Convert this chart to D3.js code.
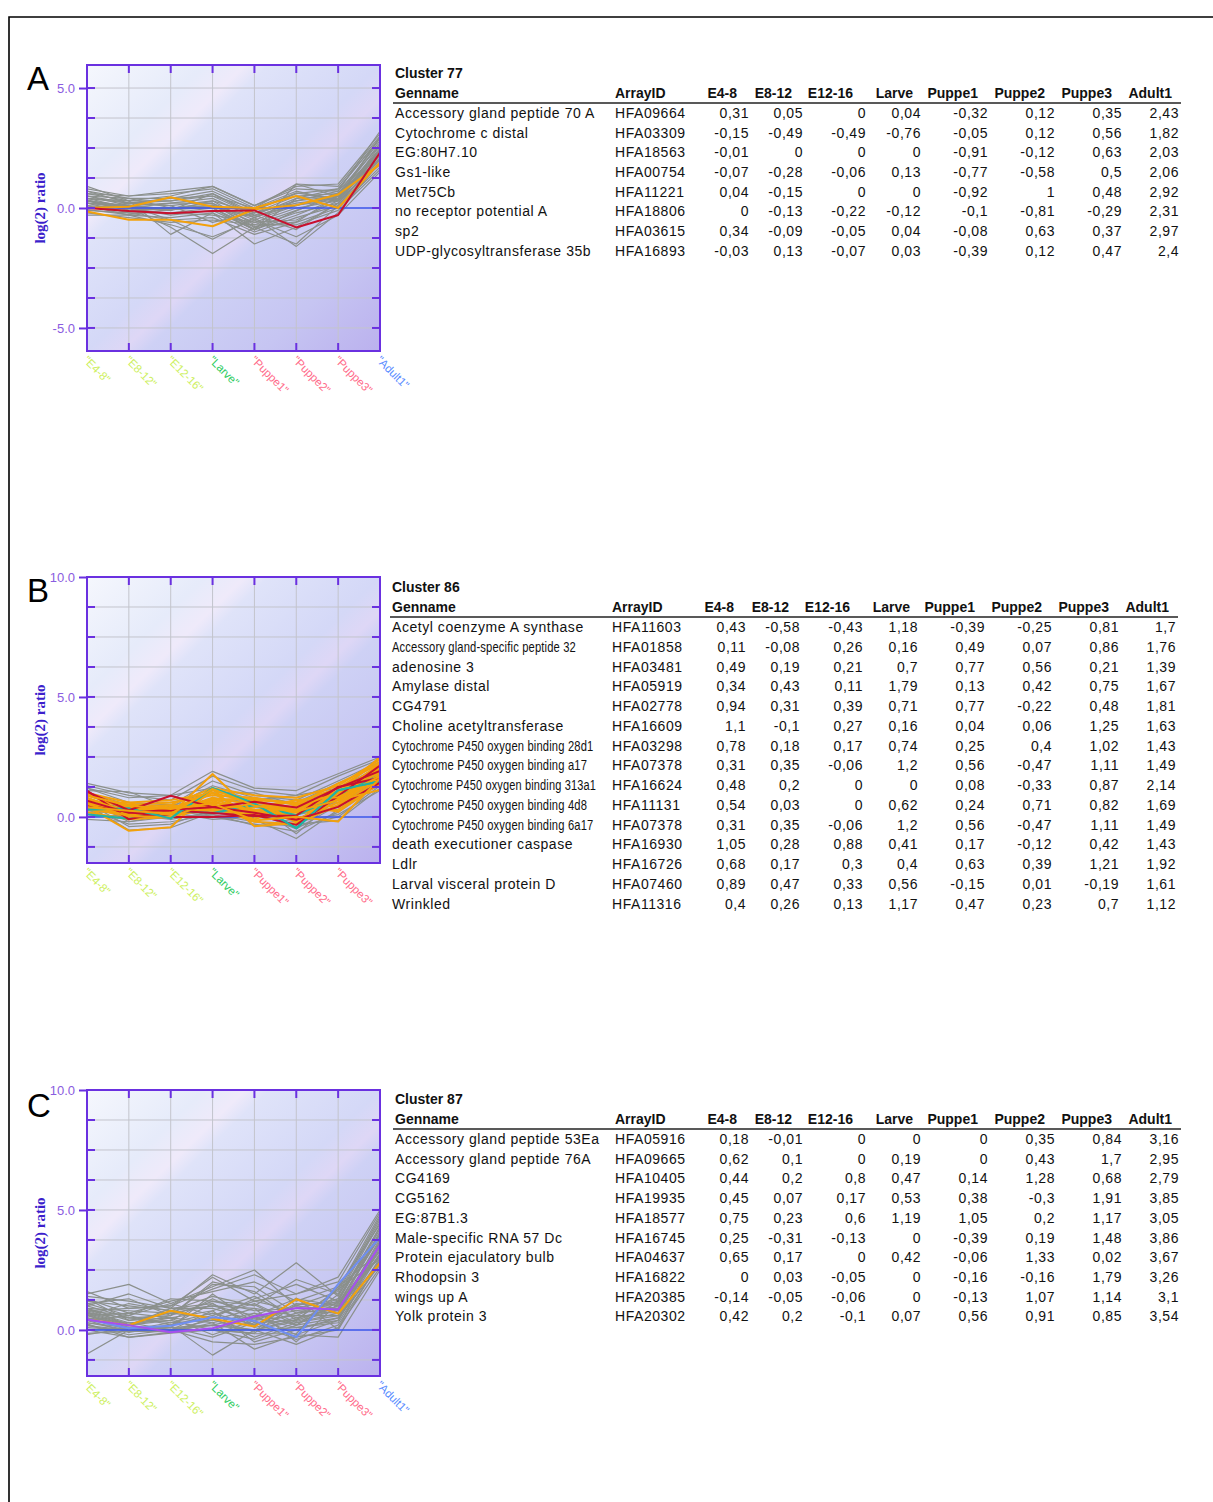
<!DOCTYPE html>
<html>
<head>
<meta charset="utf-8">
<script src="https://cdn.jsdelivr.net/npm/d3@7"></script>
<style>
  body { margin: 0; background: #fff; }
  svg { display: block; }
</style>
</head>
<body>
<svg id="fig" width="1213" height="1502"></svg>
<script>
// ---------- data ----------
const stages = ["E4-8", "E8-12", "E12-16", "Larve", "Puppe1", "Puppe2", "Puppe3", "Adult1"];
const tableColumns = ["Genname", "ArrayID", "E4-8", "E8-12", "E12-16", "Larve", "Puppe1", "Puppe2", "Puppe3", "Adult1"];

// Cluster 77
const namesA = ["Accessory gland peptide 70 A", "Cytochrome c distal", "EG:80H7.10", "Gs1-like", "Met75Cb",
  "no receptor potential A", "sp2", "UDP-glycosyltransferase 35b"];
const idsA = ["HFA09664", "HFA03309", "HFA18563", "HFA00754", "HFA11221", "HFA18806", "HFA03615", "HFA16893"];
const valuesA = [
  [0.31, 0.05, 0, 0.04, -0.32, 0.12, 0.35, 2.43],
  [-0.15, -0.49, -0.49, -0.76, -0.05, 0.12, 0.56, 1.82],
  [-0.01, 0, 0, 0, -0.91, -0.12, 0.63, 2.03],
  [-0.07, -0.28, -0.06, 0.13, -0.77, -0.58, 0.5, 2.06],
  [0.04, -0.15, 0, 0, -0.92, 1, 0.48, 2.92],
  [0, -0.13, -0.22, -0.12, -0.1, -0.81, -0.29, 2.31],
  [0.34, -0.09, -0.05, 0.04, -0.08, 0.63, 0.37, 2.97],
  [-0.03, 0.13, -0.07, 0.03, -0.39, 0.12, 0.47, 2.4]
];
// further members of cluster 77 (profiles only)
const membersA = [
  [0.9, 0.3, 0.5, 0.9, 0.1, 0.8, 0.7, 3.2],
  [0.8, 0.5, 0.6, 0.8, 0.0, 1.0, 0.9, 3.0],
  [0.7, 0.4, 0.4, 0.7, -0.1, 0.6, 0.8, 2.9],
  [0.6, 0.3, 0.3, 0.6, -0.2, 0.5, 0.6, 2.8],
  [0.5, 0.2, 0.4, 0.5, -0.3, 0.4, 0.5, 2.7],
  [0.5, 0.1, 0.2, 0.4, -0.4, 0.3, 0.7, 2.6],
  [0.4, 0.2, 0.1, 0.3, -0.2, 0.2, 0.4, 2.5],
  [0.3, 0.0, 0.2, 0.2, -0.5, 0.1, 0.6, 2.4],
  [0.3, -0.1, 0.0, 0.1, -0.6, 0.0, 0.3, 2.3],
  [0.2, 0.1, -0.1, 0.3, -0.7, -0.1, 0.5, 2.2],
  [0.2, -0.2, -0.2, 0.0, -0.8, -0.2, 0.2, 2.1],
  [0.1, 0.0, -0.3, -0.1, -0.9, -0.3, 0.4, 2.0],
  [0.1, -0.3, -0.4, -0.2, -1.0, -0.4, 0.1, 1.9],
  [0.0, -0.1, -0.2, -0.3, -0.6, -0.5, 0.3, 1.8],
  [-0.1, -0.2, -0.5, -0.4, -1.1, -0.6, 0.0, 1.7],
  [-0.2, -0.4, -0.6, -0.5, -0.7, -0.7, -0.1, 1.6],
  [0.4, 0.3, -1.1, -0.2, -1.5, -0.8, 0.2, 2.0],
  [0.3, 0.1, -0.5, -1.3, -0.4, -1.6, -0.2, 1.9],
  [0.2, 0.0, -0.8, -1.9, -0.8, -1.5, 0.1, 2.2],
  [0.6, 0.5, 0.7, 0.9, 0.1, 0.9, 1.0, 3.1],
  [0.7, 0.2, 0.3, 0.5, 0.0, 0.7, 0.3, 2.6],
  [0.4, 0.0, -0.1, 0.6, -0.3, -0.9, 0.2, 2.4],
  [0.0, 0.2, 0.1, -0.6, -0.2, 0.3, 0.5, 2.3],
  [0.5, 0.4, 0.0, 0.2, -0.9, 0.4, 0.8, 2.9],
  [-0.3, -0.3, -0.7, -1.2, -0.5, -1.2, -0.3, 1.5]
];
const accentA = [
  [0.0, 0.05, 0.45, 0.05, 0.0, 0.5, 0.0, 1.9]
];

// Cluster 86
const namesB = ["Acetyl coenzyme A synthase", "Accessory gland-specific peptide 32", "adenosine 3", "Amylase distal",
  "CG4791", "Choline acetyltransferase", "Cytochrome P450 oxygen binding 28d1", "Cytochrome P450 oxygen binding a17",
  "Cytochrome P450 oxygen binding 313a1", "Cytochrome P450 oxygen binding 4d8", "Cytochrome P450 oxygen binding 6a17",
  "death executioner caspase", "Ldlr", "Larval visceral protein D", "Wrinkled"];
const idsB = ["HFA11603", "HFA01858", "HFA03481", "HFA05919", "HFA02778", "HFA16609", "HFA03298", "HFA07378",
  "HFA16624", "HFA11131", "HFA07378", "HFA16930", "HFA16726", "HFA07460", "HFA11316"];
const valuesB = [
  [0.43, -0.58, -0.43, 1.18, -0.39, -0.25, 0.81, 1.7],
  [0.11, -0.08, 0.26, 0.16, 0.49, 0.07, 0.86, 1.76],
  [0.49, 0.19, 0.21, 0.7, 0.77, 0.56, 0.21, 1.39],
  [0.34, 0.43, 0.11, 1.79, 0.13, 0.42, 0.75, 1.67],
  [0.94, 0.31, 0.39, 0.71, 0.77, -0.22, 0.48, 1.81],
  [1.1, -0.1, 0.27, 0.16, 0.04, 0.06, 1.25, 1.63],
  [0.78, 0.18, 0.17, 0.74, 0.25, 0.4, 1.02, 1.43],
  [0.31, 0.35, -0.06, 1.2, 0.56, -0.47, 1.11, 1.49],
  [0.48, 0.2, 0, 0, 0.08, -0.33, 0.87, 2.14],
  [0.54, 0.03, 0, 0.62, 0.24, 0.71, 0.82, 1.69],
  [0.31, 0.35, -0.06, 1.2, 0.56, -0.47, 1.11, 1.49],
  [1.05, 0.28, 0.88, 0.41, 0.17, -0.12, 0.42, 1.43],
  [0.68, 0.17, 0.3, 0.4, 0.63, 0.39, 1.21, 1.92],
  [0.89, 0.47, 0.33, 0.56, -0.15, 0.01, -0.19, 1.61],
  [0.4, 0.26, 0.13, 1.17, 0.47, 0.23, 0.7, 1.12]
];
const membersB = [
  [1.4, 1.0, 0.9, 1.9, 1.2, 1.1, 1.8, 2.5],
  [1.3, 0.9, 0.7, 1.7, 1.1, 0.9, 1.7, 2.4],
  [1.2, 0.6, 0.5, 1.5, 0.9, 0.7, 1.5, 2.3],
  [1.1, 1.05, 0.4, 1.3, 0.8, 0.6, 1.4, 2.2],
  [1.0, 0.5, 0.6, 1.0, 1.0, 0.5, 1.2, 2.0],
  [0.9, 0.3, 0.2, 0.8, 0.6, 0.3, 1.0, 1.9],
  [0.8, 0.1, 0.4, 0.6, 0.4, 0.2, 0.9, 1.8],
  [0.7, -0.2, 0.1, 0.5, 0.3, -0.1, 0.7, 1.7],
  [0.6, -0.4, -0.3, 0.3, 0.2, -0.5, 0.5, 1.6],
  [0.5, -0.55, -0.45, 0.2, -0.1, -0.9, 0.3, 1.5],
  [0.4, 0.0, 0.3, 0.0, -0.3, -0.6, 0.2, 1.4],
  [0.3, -0.3, -0.2, 0.1, -0.35, -0.3, -0.15, 1.2],
  [0.2, 0.2, 0.0, 0.4, 0.5, 0.4, 0.6, 1.3],
  [0.1, -0.1, 0.2, -0.1, 0.0, -0.2, 0.1, 1.1],
  [0.0, 0.1, -0.1, 0.2, 0.1, 0.1, 0.4, 1.5],
  [-0.1, -0.2, 0.0, 0.1, -0.2, -0.4, 0.0, 1.3],
  [1.2, 0.8, 0.9, 1.2, 0.7, 0.9, 1.2, 2.1],
  [0.6, 0.4, 0.5, 0.7, 0.6, -0.7, 0.8, 1.9]
];
const accentB = [
  [0.9, 0.4, 0.5, 1.2, 0.9, 0.8, 1.3, 2.4],
  [0.8, 0.2, 0.3, 1.1, 0.7, 0.6, 1.2, 2.3],
  [0.7, 0.5, 0.6, 0.9, 0.8, 0.5, 1.0, 2.2],
  [0.6, 0.1, 0.2, 0.8, 0.5, 0.3, 0.9, 2.1],
  [0.5, 0.3, 0.4, 0.6, 0.3, 0.2, 0.8, 2.0],
  [0.4, 0.0, 0.1, 0.5, 0.2, 0.1, 0.7, 1.9],
  [0.3, 0.2, 0.5, 0.3, 0.1, -0.1, 0.6, 1.8],
  [0.2, -0.1, 0.0, 0.4, -0.2, -0.3, 0.5, 1.7],
  [1.0, 0.6, 0.7, 1.0, 0.6, 0.4, 1.1, 2.0],
  [0.6, 0.3, 0.2, 0.2, 0.4, 0.7, 0.4, 1.6],
  [0.3, 0.1, 0.3, 0.7, -0.1, 0.5, 1.4, 2.2],
  [0.9, 0.5, 0.2, 0.3, 0.7, 0.2, 0.3, 1.4],
  [0.5, 0.6, 0.1, 1.0, 0.0, 0.3, 0.9, 1.8],
  [0.7, 0.0, 0.4, 0.4, 0.5, -0.2, 1.0, 2.5]
];

// Cluster 87
const namesC = ["Accessory gland peptide 53Ea", "Accessory gland peptide 76A", "CG4169", "CG5162", "EG:87B1.3",
  "Male-specific RNA 57 Dc", "Protein ejaculatory bulb", "Rhodopsin 3", "wings up A", "Yolk protein 3"];
const idsC = ["HFA05916", "HFA09665", "HFA10405", "HFA19935", "HFA18577", "HFA16745", "HFA04637", "HFA16822",
  "HFA20385", "HFA20302"];
const valuesC = [
  [0.18, -0.01, 0, 0, 0, 0.35, 0.84, 3.16],
  [0.62, 0.1, 0, 0.19, 0, 0.43, 1.7, 2.95],
  [0.44, 0.2, 0.8, 0.47, 0.14, 1.28, 0.68, 2.79],
  [0.45, 0.07, 0.17, 0.53, 0.38, -0.3, 1.91, 3.85],
  [0.75, 0.23, 0.6, 1.19, 1.05, 0.2, 1.17, 3.05],
  [0.25, -0.31, -0.13, 0, -0.39, 0.19, 1.48, 3.86],
  [0.65, 0.17, 0, 0.42, -0.06, 1.33, 0.02, 3.67],
  [0, 0.03, -0.05, 0, -0.16, -0.16, 1.79, 3.26],
  [-0.14, -0.05, -0.06, 0, -0.13, 1.07, 1.14, 3.1],
  [0.42, 0.2, -0.1, 0.07, 0.56, 0.91, 0.85, 3.54]
];
const membersC = [
  [1.6, 0.9, 1.0, 2.2, 1.2, 1.5, 2.0, 4.9],
  [1.5, 1.9, 1.1, 1.8, 2.5, 1.0, 1.6, 4.7],
  [1.4, 1.2, 0.9, 2.3, 1.5, 2.8, 1.4, 4.5],
  [1.3, 0.7, 1.2, 1.6, 2.0, 1.2, 1.8, 4.4],
  [1.2, 1.0, 0.8, 1.4, 1.0, 2.1, 1.5, 4.6],
  [1.1, 0.6, 1.3, 1.2, 0.8, 0.9, 1.3, 4.3],
  [1.0, 0.5, 0.6, 1.9, 1.8, 0.7, 1.2, 4.2],
  [0.9, 0.8, 0.7, 1.0, 0.6, 1.3, 1.0, 4.1],
  [0.9, 0.4, 0.5, 0.8, 1.4, 0.5, 0.9, 4.0],
  [0.8, 0.3, 0.4, 1.3, 0.5, 0.8, 1.1, 3.9],
  [0.8, 0.6, 0.2, 0.6, 1.1, 0.3, 0.7, 3.8],
  [0.7, 0.2, 0.9, 0.9, 0.4, 1.0, 0.8, 3.7],
  [0.7, 0.5, 0.3, 0.4, 0.9, 0.6, 0.6, 3.6],
  [0.6, 0.1, 0.1, 1.5, 0.3, 0.4, 1.0, 3.5],
  [0.6, 0.7, 0.5, 0.3, 0.7, 0.2, 0.5, 3.4],
  [0.5, 0.0, 0.3, 0.7, 0.2, 0.7, 0.9, 3.3],
  [0.5, 0.3, 0.0, 0.2, 0.6, -0.2, 0.4, 3.2],
  [0.4, -0.1, 0.2, 1.1, 0.1, 0.5, 0.8, 3.1],
  [0.4, 0.2, 0.4, 0.0, 0.5, 0.1, 0.3, 3.0],
  [0.3, 0.0, -0.1, 0.5, -0.3, 0.3, 0.6, 2.9],
  [0.3, 0.1, 0.1, -0.3, 0.3, -0.4, 0.2, 2.8],
  [0.2, -0.2, 0.0, 0.8, -0.5, 0.0, 0.5, 2.7],
  [0.1, 0.0, 0.2, -1.05, 0.0, -0.6, 0.1, 2.6],
  [0.0, -0.3, -0.1, 0.3, -0.8, -0.2, -0.3, 2.5],
  [-0.2, 0.1, 0.0, -0.5, -0.6, -0.3, 0.0, 2.9],
  [-1.0, 0.0, 0.1, 0.2, 0.0, 0.1, 0.4, 3.5],
  [1.1, 1.3, 0.6, 2.0, 1.6, 0.4, 1.7, 4.8],
  [0.8, 0.9, 1.0, 1.7, 2.3, 1.5, 2.2, 5.0],
  [1.3, 0.4, 0.7, 0.5, 1.3, 1.9, 1.2, 4.3],
  [0.6, 1.1, 0.8, 1.0, 0.9, -0.5, 1.1, 3.9],
  [0.4, 0.6, 1.1, 0.6, 1.2, 0.8, 0.7, 3.6],
  [0.9, 0.2, 0.5, -0.2, 0.4, 0.6, 1.3, 4.0],
  [1.0, 1.5, 0.9, 1.1, 0.2, 1.1, 0.9, 3.3]
];
const accentC = [];

// y tick labels for each panel
const yLabelsA = [-5, 0, 5];
const yLabelsB = [0, 5, 10];
const yLabelsC = [0, 5, 10];

// ---------- styling ----------
const RED = "#c8102e", ORANGE = "#f2a10c", TEAL = "#1fb3a6", PURPLE = "#a64ff0", BLUE = "#6f8ef2";
const GREY = "#8b908c";
const FRAME = "#6a30e0", TICKTXT = "#8a5ce0", AXTITLE = "#3c1fcc", ZERO = "#3a55f0";
const stageColor = {
  "E4-8": "#cdef5e", "E8-12": "#cdef5e", "E12-16": "#cdef5e", "Larve": "#2fcc62",
  "Puppe1": "#ff6b8a", "Puppe2": "#ff6b8a", "Puppe3": "#ff6b8a", "Adult1": "#5a8cff"
};

const svg = d3.select("#fig");
const defs = svg.append("defs");

// plot background: light blue-white to lavender along the diagonal, with faint lighter bands
const bg = defs.append("linearGradient").attr("id", "plotBg")
  .attr("x1", 0).attr("y1", 0).attr("x2", 1).attr("y2", 1);
[[0, "#f5f7fd"], [0.2, "#e6ebfa"], [0.27, "#efeafa"], [0.31, "#dfe3f9"], [0.5, "#d4d8f7"],
 [0.56, "#ded7f6"], [0.6, "#ced1f5"], [0.8, "#c6c5f2"], [1, "#bbb1ee"]]
  .forEach(([o, c]) => bg.append("stop").attr("offset", o).attr("stop-color", c));

// page frame
svg.append("path").attr("d", "M9,1502 V17 H1213").attr("fill", "none")
  .attr("stroke", "#000").attr("stroke-width", 1.6);

const fmtCell = v => String(v).replace(".", ",");
const fmtTick = v => d3.format(".1f")(v).replace("\u2212", "-");

const PLOT_L = 87, PLOT_W = 293, PLOT_H = 286;
const NAME_MAX = 204;

function drawPanel(p, idx) {
  const g = svg.append("g");
  const top = p.top, bottom = top + PLOT_H;
  const x = d3.scalePoint().domain(stages).range([PLOT_L, PLOT_L + PLOT_W]);
  const y = d3.scaleLinear().domain(p.yDomain).range([bottom, top]);

  const clipId = "clip" + idx;
  defs.append("clipPath").attr("id", clipId).append("rect")
    .attr("x", PLOT_L).attr("y", top).attr("width", PLOT_W).attr("height", PLOT_H);

  g.append("rect").attr("x", PLOT_L).attr("y", top).attr("width", PLOT_W).attr("height", PLOT_H)
    .attr("fill", "url(#plotBg)");

  // grid
  const gridY = d3.range(Math.ceil(p.yDomain[0] / 1.25) * 1.25, p.yDomain[1] - 0.01, 1.25);
  g.append("g").selectAll("line").data(gridY).join("line")
    .attr("x1", PLOT_L).attr("x2", PLOT_L + PLOT_W).attr("y1", d => y(d)).attr("y2", d => y(d))
    .attr("stroke", "#c3c4cc").attr("stroke-width", 1);
  const innerStages = stages.slice(1, -1);
  g.append("g").selectAll("line").data(innerStages).join("line")
    .attr("x1", d => x(d)).attr("x2", d => x(d)).attr("y1", top).attr("y2", bottom)
    .attr("stroke", "#c3c4cc").attr("stroke-width", 1);

  // profiles
  const line = d3.line().x((d, i) => x(stages[i])).y(d => y(d));
  const lines = g.append("g").attr("clip-path", `url(#${clipId})`).attr("fill", "none")
    .attr("stroke-linejoin", "round");
  const greyRows = p.values.filter((v, i) => !p.highlight[p.names[i]]);
  lines.selectAll("path.member").data(p.members.concat(greyRows)).join("path")
    .attr("class", "member").attr("d", line).attr("stroke", GREY).attr("stroke-width", 1.2);

  lines.append("line").attr("x1", PLOT_L).attr("x2", PLOT_L + PLOT_W)
    .attr("y1", y(0)).attr("y2", y(0)).attr("stroke", ZERO).attr("stroke-width", 1.5);

  lines.selectAll("path.accent").data(p.accents).join("path")
    .attr("class", "accent").attr("d", line).attr("stroke", ORANGE).attr("stroke-width", 2);
  const hiRows = p.values.map((v, i) => ({ v, c: p.highlight[p.names[i]] })).filter(d => d.c);
  lines.selectAll("path.hi").data(hiRows).join("path")
    .attr("class", "hi").attr("d", d => line(d.v)).attr("stroke", d => d.c).attr("stroke-width", 2);

  // frame and inward ticks
  g.append("rect").attr("x", PLOT_L).attr("y", top).attr("width", PLOT_W).attr("height", PLOT_H)
    .attr("fill", "none").attr("stroke", FRAME).attr("stroke-width", 2);
  const tk = g.append("g").attr("stroke", FRAME).attr("stroke-width", 2);
  gridY.forEach(v => {
    tk.append("line").attr("x1", PLOT_L).attr("x2", PLOT_L + 8).attr("y1", y(v)).attr("y2", y(v));
    tk.append("line").attr("x1", PLOT_L + PLOT_W - 8).attr("x2", PLOT_L + PLOT_W).attr("y1", y(v)).attr("y2", y(v));
  });
  innerStages.forEach(s => {
    tk.append("line").attr("x1", x(s)).attr("x2", x(s)).attr("y1", top).attr("y2", top + 8);
    tk.append("line").attr("x1", x(s)).attr("x2", x(s)).attr("y1", bottom - 8).attr("y2", bottom);
  });

  // y axis labels
  const yAxis = d3.axisLeft(y).tickValues(p.yLabels).tickFormat(fmtTick).tickSize(8).tickPadding(4);
  const ya = g.append("g").attr("transform", `translate(${PLOT_L},0)`).call(yAxis);
  ya.select(".domain").remove();
  ya.selectAll(".tick line").attr("stroke", FRAME).attr("stroke-width", 2);
  ya.selectAll(".tick text").attr("fill", TICKTXT).attr("font-family", "Liberation Sans, Arial, sans-serif")
    .attr("font-size", 13);

  // x axis labels
  const xAxis = d3.axisBottom(x).tickValues(p.xLabels).tickFormat(d => `"${d}"`).tickSize(0);
  const xa = g.append("g").attr("transform", `translate(0,${bottom})`).call(xAxis);
  xa.select(".domain").remove();
  xa.selectAll(".tick text")
    .attr("fill", d => stageColor[d]).attr("font-family", "Liberation Sans, Arial, sans-serif")
    .attr("font-size", 11.5).attr("text-anchor", "start")
    .attr("transform", "translate(-2,7) rotate(45)").attr("x", 0).attr("y", 0).attr("dy", "0.35em");

  // y axis title
  g.append("text").attr("transform", `translate(45,${(top + bottom) / 2}) rotate(-90)`)
    .attr("text-anchor", "middle").attr("font-family", "Liberation Serif, Times New Roman, serif")
    .attr("font-weight", "bold").attr("font-size", 15).attr("fill", AXTITLE).text("log(2) ratio");

  // panel letter
  g.append("text").attr("x", 27).attr("y", top + p.letterDy).attr("font-family", "Liberation Sans, Arial, sans-serif")
    .attr("font-size", 33).attr("fill", "#000").text(p.letter);

  // table
  const t = g.append("g").attr("font-family", "Liberation Sans, Arial, sans-serif").attr("fill", "#111");
  const x0 = p.tableX, tY = p.tableY;
  const valueRight = [354, 408, 471, 526, 593, 660, 727, 784];
  const headRight = [342, 397, 458, 518, 583, 650, 717, 777];
  t.append("text").attr("x", x0).attr("y", tY).attr("font-weight", "bold").attr("font-size", 14).text(p.title);
  t.append("text").attr("x", x0).attr("y", tY + 20).attr("font-weight", "bold").attr("font-size", 14).text(tableColumns[0]);
  t.append("text").attr("x", x0 + 220).attr("y", tY + 20).attr("font-weight", "bold").attr("font-size", 14).text(tableColumns[1]);
  tableColumns.slice(2).forEach((c, i) => {
    t.append("text").attr("x", x0 + headRight[i]).attr("y", tY + 20).attr("text-anchor", "end")
      .attr("font-weight", "bold").attr("font-size", 14).text(c);
  });
  t.append("line").attr("x1", x0 - 2).attr("x2", x0 + 786).attr("y1", tY + 25).attr("y2", tY + 25)
    .attr("stroke", "#222").attr("stroke-width", 1.3);
  const rowH = p.rowH;
  p.names.forEach((name, r) => {
    const by = tY + 40 + r * rowH;
    const nt = t.append("text").attr("transform", `translate(${x0},${by})`).attr("font-size", 14)
      .attr("letter-spacing", 0.55).text(name);
    const w = nt.node().getComputedTextLength();
    // long names are set condensed (horizontally scaled) so they stay inside the name column
    if (w > 212) {
      nt.attr("letter-spacing", 0.2);
      const w2 = nt.node().getComputedTextLength();
      nt.attr("transform", `translate(${x0},${by}) scale(${Math.min(0.8, NAME_MAX / w2)},1)`);
    }
    t.append("text").attr("x", x0 + 220).attr("y", by).attr("font-size", 14).attr("letter-spacing", 0.55)
      .text(p.ids[r]);
    p.values[r].forEach((v, c) => {
      t.append("text").attr("x", x0 + valueRight[c]).attr("y", by).attr("text-anchor", "end")
        .attr("font-size", 14).attr("letter-spacing", 0.55).text(fmtCell(v));
    });
  });
}

const panels = [
  {
    letter: "A", letterDy: 25, top: 65, yDomain: [-5.96, 5.96], yLabels: yLabelsA, xLabels: stages,
    title: "Cluster 77", names: namesA, ids: idsA, values: valuesA, members: membersA, accents: accentA,
    highlight: { "no receptor potential A": RED, "Cytochrome c distal": ORANGE },
    tableX: 395, tableY: 78, rowH: 19.65
  },
  {
    letter: "B", letterDy: 25, top: 577, yDomain: [-1.92, 10], yLabels: yLabelsB, xLabels: stages.slice(0, 7),
    title: "Cluster 86", names: namesB, ids: idsB, values: valuesB, members: membersB, accents: accentB,
    highlight: {
      "Acetyl coenzyme A synthase": ORANGE, "Accessory gland-specific peptide 32": TEAL, "adenosine 3": ORANGE,
      "Amylase distal": ORANGE, "CG4791": ORANGE, "Choline acetyltransferase": RED,
      "Cytochrome P450 oxygen binding 28d1": ORANGE, "Cytochrome P450 oxygen binding a17": TEAL,
      "Cytochrome P450 oxygen binding 313a1": RED, "Cytochrome P450 oxygen binding 4d8": ORANGE,
      "Cytochrome P450 oxygen binding 6a17": TEAL, "death executioner caspase": RED, "Ldlr": RED,
      "Larval visceral protein D": ORANGE, "Wrinkled": ORANGE
    },
    tableX: 392, tableY: 592, rowH: 19.75
  },
  {
    letter: "C", letterDy: 27, top: 1090, yDomain: [-1.92, 10], yLabels: yLabelsC, xLabels: stages,
    title: "Cluster 87", names: namesC, ids: idsC, values: valuesC, members: membersC, accents: accentC,
    highlight: { "CG4169": ORANGE, "CG5162": BLUE, "Yolk protein 3": PURPLE },
    tableX: 395, tableY: 1104, rowH: 19.7
  }
];

panels.forEach(drawPanel);
</script>
</body>
</html>
